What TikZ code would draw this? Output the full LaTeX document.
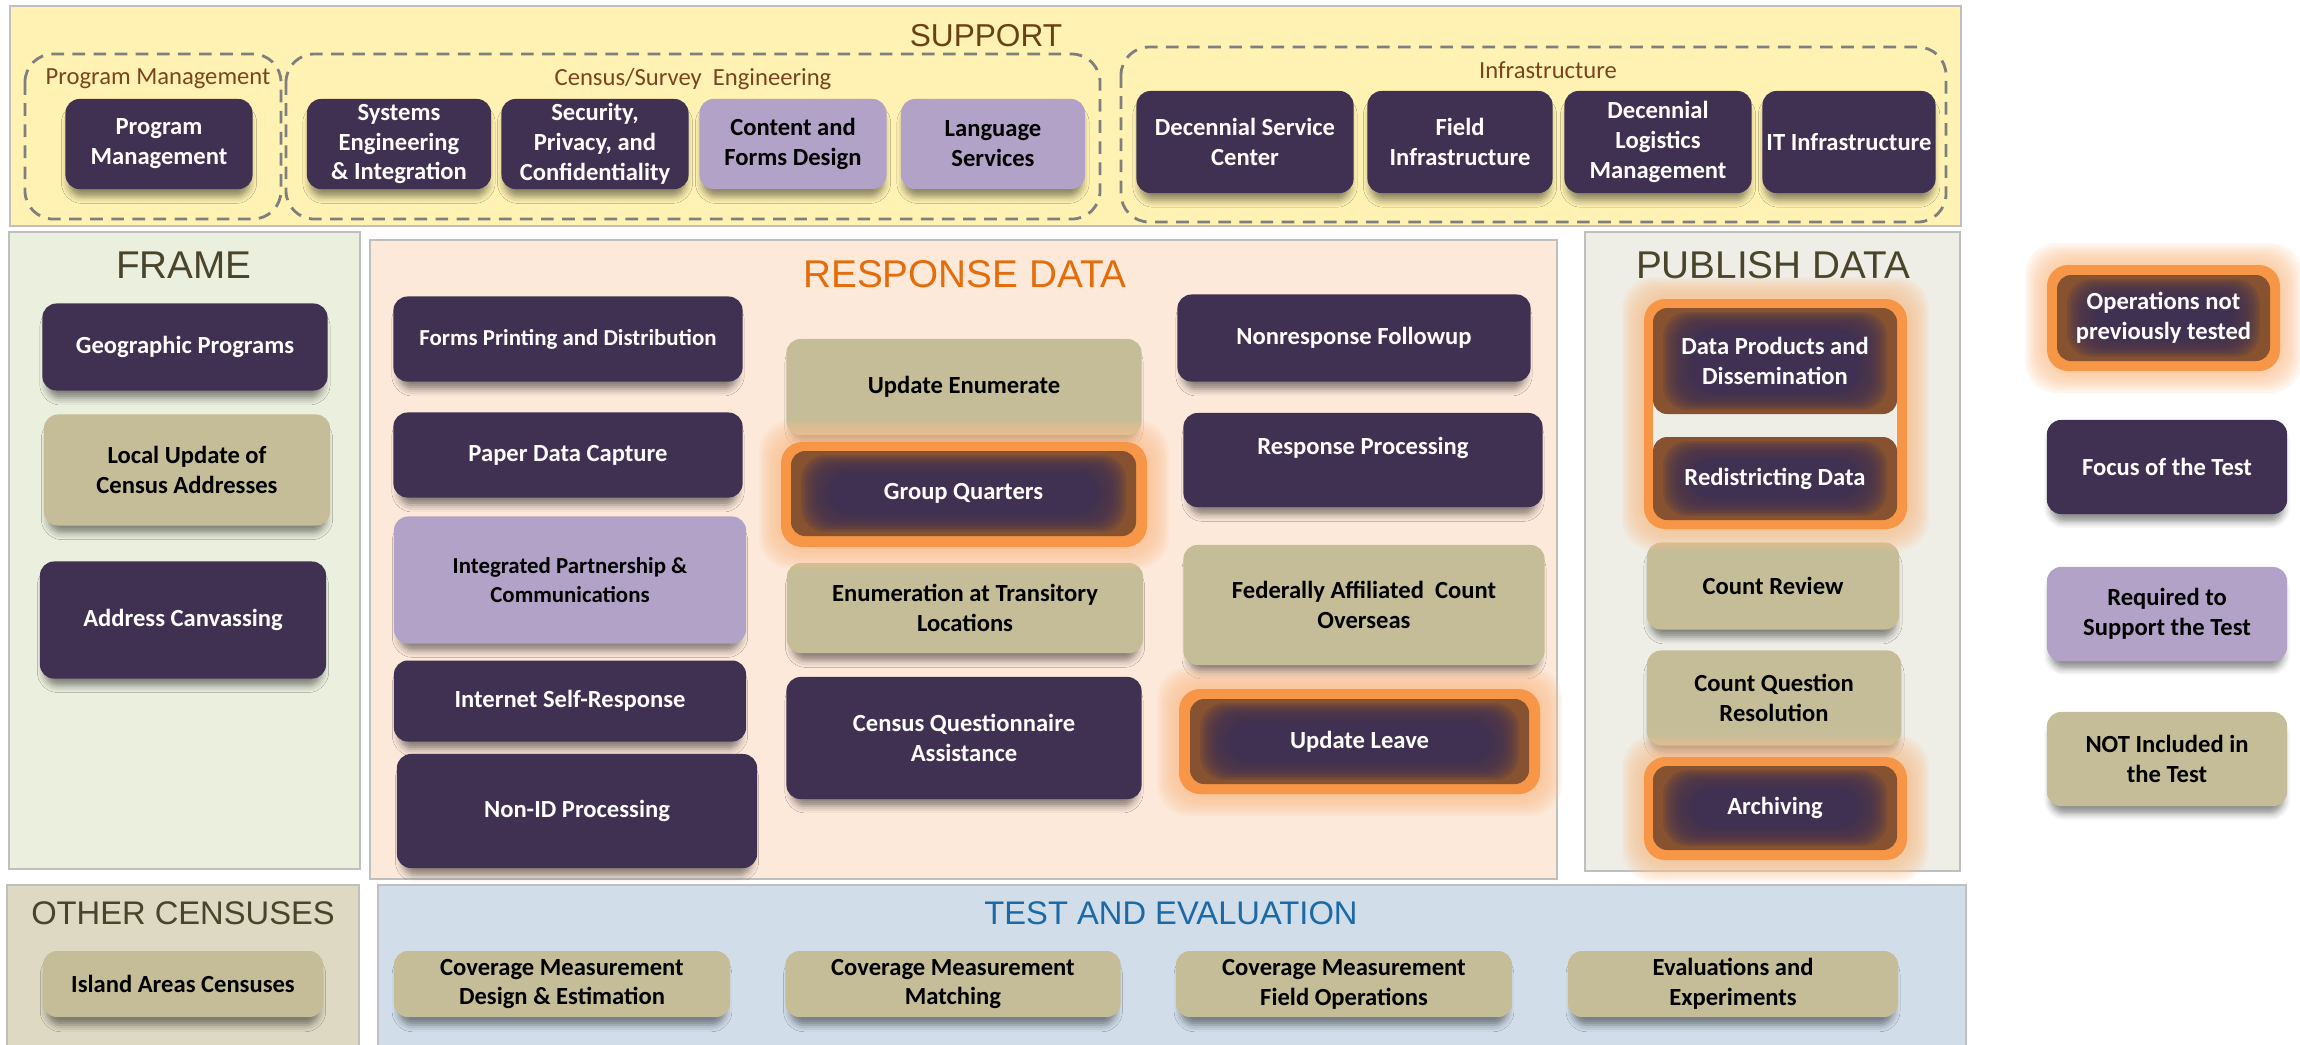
\documentclass[tikz,border=0pt]{standalone}
\usepackage{fontspec}
\setmainfont{Liberation Sans}
\newfontfamily\cardfont{Carlito}
\usetikzlibrary{calc,positioning,shadows.blur}

\definecolor{focusc}{HTML}{403152}
\definecolor{reqc}{HTML}{B3A2C7}
\definecolor{notc}{HTML}{C4BD97}
\definecolor{hotc}{HTML}{F79646}
\definecolor{glowc}{HTML}{FAC08F}
\definecolor{brownc}{HTML}{87522F}
\definecolor{supc}{HTML}{FFF2B2}
\definecolor{framec}{HTML}{EBEFDE}
\definecolor{respc}{HTML}{FDE9DA}
\definecolor{pubc}{HTML}{EFEEE6}
\definecolor{othc}{HTML}{DDD9C3}
\definecolor{testc}{HTML}{D1DEEA}
\definecolor{edgec}{HTML}{BFBFBF}
\definecolor{dashc}{HTML}{7F7F7F}
\definecolor{olivec}{HTML}{4A452A}
\definecolor{supt}{HTML}{6A4015}
\definecolor{respt}{HTML}{E46C0A}
\definecolor{testt}{HTML}{1B69A5}
\definecolor{grpt}{HTML}{7A4420}

\newcommand{\cardsize}{\fontsize{7}{8.5}\selectfont}
\newcommand{\smallcard}{\fontsize{6.5}{8}\selectfont}

\tikzset{
    card/.style = {rounded corners=4pt, align=center, inner sep=1pt,
        font=\cardfont\bfseries\cardsize,
        blur shadow={shadow xshift=0pt, shadow yshift=-2.6pt, shadow scale=0.97,
            shadow blur radius=2pt, shadow opacity=45}},
    focus/.style = {card, fill=focusc, text=white},
    required/.style = {card, fill=reqc, text=black},
    notinc/.style = {card, fill=notc, text=black},
    hottext/.style = {align=center, text=white, font=\cardfont\bfseries\cardsize},
    panel/.style = {draw=edgec, line width=0.5pt},
    group/.style = {draw=dashc, line width=0.8pt, dash pattern=on 3.6pt off 2.4pt,
        rounded corners=8pt},
    grouplabel/.style = {text=grpt, font=\cardfont\cardsize, inner sep=0pt},
    bigtitle/.style = {text=olivec, font=\fontsize{11}{13}\selectfont, inner sep=0pt},
    lowtitle/.style = {text=olivec, font=\fontsize{9.3}{11}\selectfont, inner sep=0pt}
}

% orange frame with soft glow: x1 y1 x2 y2
\newcommand{\glowframe}[4]{%
    \foreach \gw in {2,4,...,22}
        \fill[glowc, fill opacity=0.12, rounded corners=9pt]
            ({#1-\gw},{#2-\gw}) rectangle ({#3+\gw},{#4+\gw});
    \fill[hotc, rounded corners=6pt] (#1,#2) rectangle (#3,#4);
}
% brown card with blurred purple core: name x1 y1 x2 y2 text
\newcommand{\hotcard}[6]{%
    \fill[brownc, rounded corners=4pt] (#2,#3) rectangle (#4,#5);
    \foreach \k in {0,...,11}
        \fill[focusc, fill opacity=0.2, rounded corners=7pt]
            ({#2+10+2.4*\k},{#3+4+1.6*\k}) rectangle ({#4-10-2.4*\k},{#5-4-1.6*\k});
    \fill[focusc, rounded corners=6pt] ({#2+38},{#3+22}) rectangle ({#4-38},{#5-22});
    \node[hottext] (#1) at ({(#2+#4)/2},{(#3+#5)/2}) {#6};
}

\begin{document}
\begin{tikzpicture}[x=0.01cm, y=-0.01cm]
    \useasboundingbox (0,0) rectangle (2300,1044);

    % panels
    \fill[supc, panel] (10,6) rectangle (1961,226);
    \fill[framec, panel] (9,232) rectangle (360,869);
    \fill[respc, panel] (370,240) rectangle (1557,879);
    \fill[pubc, panel] (1585,232) rectangle (1960,871);
    \fill[othc, panel] (7,885) rectangle (359,1046);
    \fill[testc, panel] (378,885) rectangle (1966,1046);

    \node[text=supt, font=\fontsize{9}{11}\selectfont, inner sep=0pt] (tsupport) at (986,36) {SUPPORT};
    \node[bigtitle] (tframe) at (184,265) {FRAME};
    \node[bigtitle, text=respt] (tresp) at (965,274) {RESPONSE DATA};
    \node[bigtitle] (tpub) at (1773,265) {PUBLISH DATA};
    \node[lowtitle] (tother) at (183,913) {OTHER CENSUSES};
    \node[lowtitle, text=testt] (ttest) at (1171,913) {TEST AND EVALUATION};

    % support groups
    \draw[group] (25,54) rectangle (281,219);
    \draw[group] (286,54) rectangle (1100,219);
    \draw[group] (1121,47) rectangle (1946,222);
    \node[grouplabel] (lpm) at (158,79) {Program Management};
    \node[grouplabel] (lcse) at (693,79) {Census/Survey\ \ Engineering};
    \node[grouplabel] (linf) at (1548,70) {Infrastructure};

    \node[focus, minimum width=1.87cm, minimum height=0.9cm] (pm) at (159,144) {Program\\Management};
    \node[focus, minimum width=1.84cm, minimum height=0.9cm] (sei) at (399,144) {Systems\\Engineering\\\& Integration};
    \node[focus, minimum width=1.87cm, minimum height=0.9cm] (spc) at (595,144) {Security,\\Privacy, and\\Confidentiality};
    \node[required, minimum width=1.87cm, minimum height=0.9cm] (cfd) at (793,144) {Content and\\Forms Design};
    \node[required, minimum width=1.84cm, minimum height=0.9cm] (lang) at (993,144) {Language\\Services};
    \node[focus, minimum width=2.17cm, minimum height=1.02cm] (dsc) at (1245,142) {Decennial Service\\Center};
    \node[focus, minimum width=1.85cm, minimum height=1.02cm] (fi) at (1460,142) {Field\\Infrastructure};
    \node[focus, minimum width=1.87cm, minimum height=1.02cm] (dlm) at (1658,142) {Decennial\\Logistics\\Management};
    \node[focus, minimum width=1.73cm, minimum height=1.02cm] (iti) at (1849,142) {IT Infrastructure};

    % frame
    \node[focus, minimum width=2.85cm, minimum height=0.87cm] (geo) at (185,347) {Geographic Programs};
    \node[notinc, minimum width=2.86cm, minimum height=1.11cm] (lucu) at (187,470) {Local Update of\\Census Addresses};
    \node[focus, minimum width=2.86cm, minimum height=1.17cm] (adc) at (183,620) {Address Canvassing};

    % response data
    \node[focus, minimum width=3.49cm, minimum height=0.85cm, font=\cardfont\bfseries\smallcard] (fpd) at (568,339) {Forms Printing and Distribution};
    \node[focus, minimum width=3.49cm, minimum height=0.85cm] (pdc) at (568,455) {Paper Data Capture};
    \node[required, minimum width=3.52cm, minimum height=1.27cm, font=\cardfont\bfseries\smallcard] (ipc) at (570,580) {Integrated Partnership \&\\Communications};
    \node[focus, minimum width=3.52cm, minimum height=0.81cm] (isr) at (570,701) {Internet Self-Response};
    \node[focus, minimum width=3.60cm, minimum height=1.14cm] (nid) at (577,811) {Non-ID Processing};
    \node[notinc, minimum width=3.55cm, minimum height=0.96cm] (ue) at (964,387) {Update Enumerate};
    \node[notinc, minimum width=3.56cm, minimum height=0.90cm] (etl) at (965,608) {Enumeration at Transitory\\Locations};
    \node[focus, minimum width=3.55cm, minimum height=1.22cm] (cqa) at (964,738) {Census Questionnaire\\Assistance};
    \node[focus, minimum width=3.53cm, minimum height=0.87cm] (nrfu) at (1354,338) {Nonresponse Followup};
    \node[focus, minimum width=3.59cm, minimum height=0.94cm, text depth=8pt] (rp) at (1363,460) {Response Processing};
    \node[notinc, minimum width=3.61cm, minimum height=1.20cm] (faco) at (1364,605) {Federally Affiliated\ \ Count\\Overseas};
    \glowframe{781}{442}{1147}{547}
    \hotcard{gq}{791}{451}{1136}{536}{Group Quarters}
    \glowframe{1179}{689}{1540}{794}
    \hotcard{ul}{1190}{699}{1529}{784}{Update Leave}

    % publish data
    \node[notinc, minimum width=2.52cm, minimum height=0.87cm] (cr) at (1773,586) {Count Review};
    \node[notinc, minimum width=2.54cm, minimum height=0.95cm] (cqr) at (1774,698) {Count Question\\Resolution};
    \glowframe{1644}{299}{1907}{529}
    \fill[pubc] (1653,400) rectangle (1897,450);
    \hotcard{dpd}{1653}{308}{1897}{414}{Data Products and\\Dissemination}
    \hotcard{rd}{1653}{437}{1897}{520}{Redistricting Data}
    \glowframe{1644}{757}{1907}{860}
    \hotcard{arch}{1653}{766}{1897}{850}{Archiving}

    % legend
    \glowframe{2047}{265}{2280}{371}
    \hotcard{ont}{2057}{275}{2270}{361}{Operations not\\previously tested}
    \node[focus, minimum width=2.40cm, minimum height=0.94cm] (fot) at (2167,467) {Focus of the Test};
    \node[required, minimum width=2.40cm, minimum height=0.94cm] (rst) at (2167,614) {Required to\\Support the Test};
    \node[notinc, minimum width=2.40cm, minimum height=0.94cm] (nit) at (2167,759) {NOT Included in\\the Test};

    % other censuses, test and evaluation
    \node[notinc, minimum width=2.80cm, minimum height=0.66cm] (iac) at (183,984) {Island Areas Censuses};
    \node[notinc, minimum width=3.36cm, minimum height=0.66cm] (cmde) at (562,984) {Coverage Measurement\\Design \& Estimation};
    \node[notinc, minimum width=3.35cm, minimum height=0.66cm] (cmm) at (953,984) {Coverage Measurement\\Matching};
    \node[notinc, minimum width=3.36cm, minimum height=0.66cm] (cmfo) at (1344,984) {Coverage Measurement\\Field Operations};
    \node[notinc, minimum width=3.30cm, minimum height=0.66cm] (ee) at (1733,984) {Evaluations and\\Experiments};
\end{tikzpicture}
\end{document}
